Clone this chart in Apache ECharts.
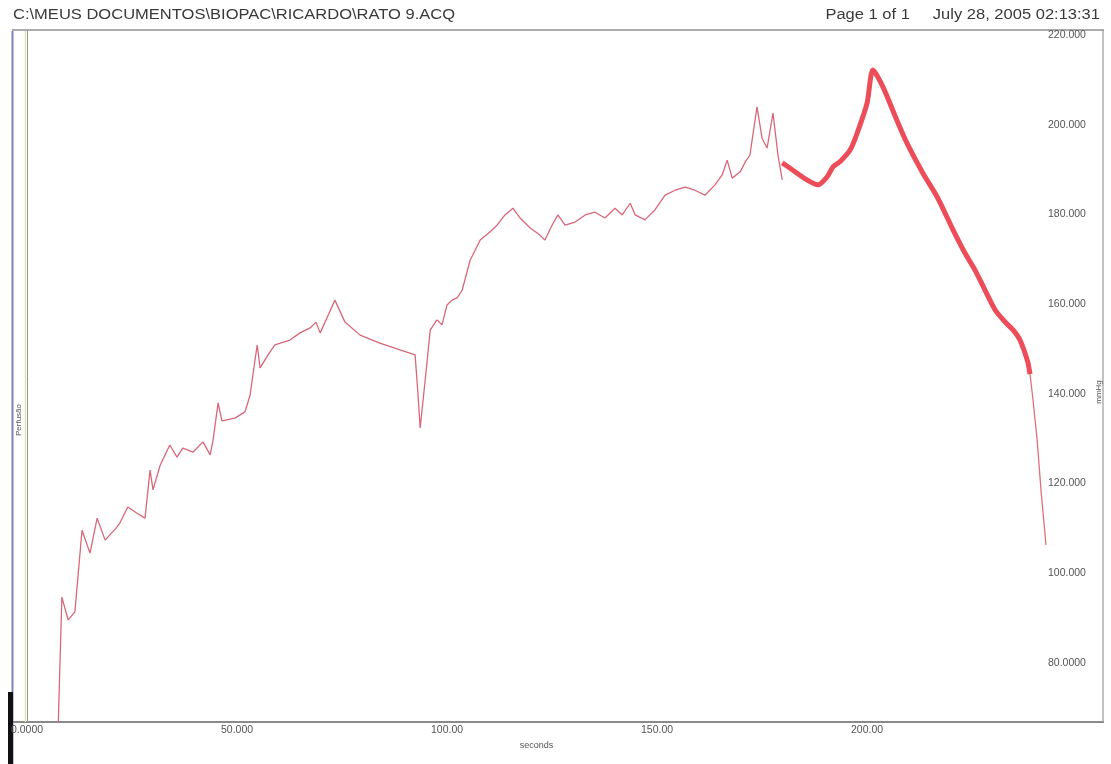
<!DOCTYPE html>
<html>
<head>
<meta charset="utf-8">
<title>RATO 9.ACQ</title>
<script src="https://cdn.jsdelivr.net/npm/echarts@6/dist/echarts.min.js"></script>
<style>
  html, body { margin: 0; padding: 0; background: #ffffff; }
  #chart { width: 1111px; height: 764px; }
</style>
</head>
<body>
<div id="chart"></div>
<script>
// Perfusion pressure record (mmHg) against time (seconds)
const headerLeft = 'C:\\MEUS DOCUMENTOS\\BIOPAC\\RICARDO\\RATO 9.ACQ';
const headerRight = 'Page 1 of 1     July 28, 2005 02:13:31';
const xTicks = [0, 50, 100, 150, 200];
const yTicks = [80, 100, 120, 140, 160, 180, 200, 220];

// slow trace: time (s)
const timeA = [7.1, 8.3, 9.8, 11.4, 13.1, 15.0, 16.7, 18.6, 21.4, 22.1, 24.0, 26.2, 28.1, 29.3, 30.0,
  31.7, 34.0, 35.7, 37.1, 39.5, 41.9, 43.6, 44.3, 45.5, 46.4, 49.5, 51.9, 53.1, 54.8, 55.5, 57.4,
  59.0, 62.6, 65.0, 67.4, 68.8, 69.8, 71.4, 73.3, 75.7, 79.3, 84.0, 88.8, 92.4, 93.1, 93.6, 94.8,
  96.0, 97.6, 98.8, 100.0, 101.2, 102.4, 103.6, 105.5, 107.9, 110.2, 111.9, 113.8, 115.7, 117.4,
  119.8, 122.1, 123.3, 125.0, 126.4, 128.1, 130.5, 132.9, 135.2, 137.6, 140.0, 141.7, 143.6, 144.8,
  147.1, 149.5, 151.9, 154.3, 156.7, 159.0, 161.4, 163.8, 165.5, 166.7, 167.9, 169.8, 171.0, 172.1,
  173.8, 175.0, 176.2, 177.6, 178.8, 179.8];
// slow trace: pressure (mmHg)
const pressA = [55, 94.7, 89.6, 91.4, 109.6, 104.5, 112.3, 107.4, 110.3, 111.2, 114.8, 113.4, 112.3, 123.0, 118.6,
  124.1, 128.6, 125.9, 127.9, 127.0, 129.3, 126.4, 129.7, 138.0, 134.0, 134.6, 136.0, 139.7, 150.9, 145.8, 148.7,
  150.9, 152.0, 153.6, 154.7, 156.0, 153.6, 156.9, 160.9, 156.0, 153.1, 151.3, 149.8, 148.7, 139.7, 132.4, 143.1,
  154.2, 156.5, 155.4, 159.8, 160.9, 161.4, 163.1, 169.8, 174.3, 176.1, 177.6, 179.9, 181.4, 179.2,
  177.0, 175.4, 174.3, 177.6, 179.9, 177.6, 178.3, 179.9, 180.5, 179.2, 181.4, 179.9, 182.5, 179.9,
  178.8, 181.0, 184.3, 185.4, 186.1, 185.4, 184.3, 186.6, 188.8, 192.1, 188.1, 189.5, 191.7, 193.2,
  204.0, 197.0, 194.8, 202.6, 193.2, 187.7];

// pulsatile trace (drawn as a wide band): time (s)
const timeB = [179.8, 181.7, 185.7, 188.3, 190.5, 191.9, 193.6, 196.0, 197.9, 200.0, 201.4, 203.8,
  207.1, 209.5, 213.3, 216.7, 220.5, 223.3, 225.7, 228.1, 230.5, 232.9, 234.8, 236.4, 238.3, 238.8];
// pulsatile trace: pressure (mmHg)
const pressB = [191.5, 190.3, 187.7, 186.6, 188.4, 190.6, 191.8, 194.4, 198.8, 204.8, 212.2, 208.4,
  201.0, 195.9, 189.2, 183.9, 176.5, 171.4, 167.6, 163.1, 158.7, 156.0, 154.2, 152.0, 147.0, 144.4];

// final fall: time (s) and pressure (mmHg)
const timeC = [238.8, 239.5, 240.5, 241.4, 242.6];
const pressC = [144.4, 138.7, 129.7, 118.6, 106.3];

const zip = (t, v) => t.map((x, i) => [x, v[i]]);

const chart = echarts.init(document.getElementById('chart'), null, { renderer: 'canvas' });
const FONT = '"Liberation Sans", Arial, sans-serif';
const GREY = '#8a8a8a';
const HEAD = { fontFamily: FONT, fontSize: 14, fill: '#3a3a3a' };

chart.setOption({
  animation: false,
  backgroundColor: '#ffffff',
  grid: { left: 27, right: 65, top: 31, bottom: 42, containLabel: false },
  xAxis: {
    type: 'value',
    min: 0,
    max: 242.6,
    name: 'seconds',
    nameLocation: 'middle',
    nameGap: 13,
    nameTextStyle: { fontFamily: FONT, fontSize: 9, color: '#555' },
    axisLine: { show: true, lineStyle: { color: GREY, width: 2 } },
    axisTick: { show: false },
    splitLine: { show: false },
    axisLabel: {
      customValues: xTicks,
      fontFamily: FONT, fontSize: 10.5, color: '#555', margin: 3,
      formatter: v => Number(v).toPrecision(5)
    }
  },
  yAxis: {
    type: 'value',
    position: 'right',
    min: 66.85,
    max: 220.9,
    axisLine: { show: true, lineStyle: { color: '#9a9a9a', width: 1 } },
    axisTick: { show: false },
    splitLine: { show: false },
    axisLabel: {
      customValues: yTicks,
      fontFamily: FONT, fontSize: 10.5, color: '#555', margin: 2,
      formatter: v => Number(v).toPrecision(6)
    }
  },
  series: [
    {
      type: 'line', data: zip(timeA, pressA), showSymbol: false, smooth: false,
      lineStyle: { color: '#d8677a', width: 1.3 }
    },
    {
      type: 'line', data: zip(timeB, pressB), showSymbol: false, smooth: 0.25,
      lineStyle: { color: '#ec4d58', width: 5 }
    },
    {
      type: 'line', data: zip(timeC, pressC), showSymbol: false,
      lineStyle: { color: '#e0707c', width: 1.3 }
    }
  ],
  graphic: [
    // header, printed slightly wide
    { type: 'text', x: 13, y: 8, scaleX: 1.18, style: Object.assign({ text: headerLeft }, HEAD) },
    { type: 'text', x: 1100, y: 8, scaleX: 1.18, style: Object.assign({ text: headerRight, align: 'right' }, HEAD) },
    // page frame
    { type: 'line', shape: { x1: 12, y1: 30, x2: 1104, y2: 30 }, style: { stroke: '#8f8f8f', lineWidth: 1.5 } },
    { type: 'line', shape: { x1: 12, y1: 722, x2: 27, y2: 722 }, style: { stroke: GREY, lineWidth: 2 } },
    { type: 'line', shape: { x1: 1046, y1: 722, x2: 1104, y2: 722 }, style: { stroke: GREY, lineWidth: 2 } },
    { type: 'line', shape: { x1: 1103, y1: 30, x2: 1103, y2: 722 }, style: { stroke: '#9a9a9a', lineWidth: 1.2 } },
    // channel axes on the left
    { type: 'line', shape: { x1: 12.5, y1: 31, x2: 12.5, y2: 764 }, style: { stroke: '#7c82be', lineWidth: 2 } },
    { type: 'line', shape: { x1: 25.5, y1: 31, x2: 25.5, y2: 722 }, style: { stroke: '#dbe7b4', lineWidth: 1.5 } },
    { type: 'rect', shape: { x: 8, y: 692, width: 5, height: 72 }, style: { fill: '#111' } },
    // channel names
    { type: 'text', x: 19, y: 420, rotation: Math.PI / 2,
      style: { text: 'Perfusão', fontFamily: FONT, fontSize: 8, fill: '#555', align: 'center', verticalAlign: 'middle' } },
    { type: 'text', x: 1099, y: 392, rotation: Math.PI / 2,
      style: { text: 'mmHg', fontFamily: FONT, fontSize: 8, fill: '#555', align: 'center', verticalAlign: 'middle' } }
  ]
});
</script>
</body>
</html>
